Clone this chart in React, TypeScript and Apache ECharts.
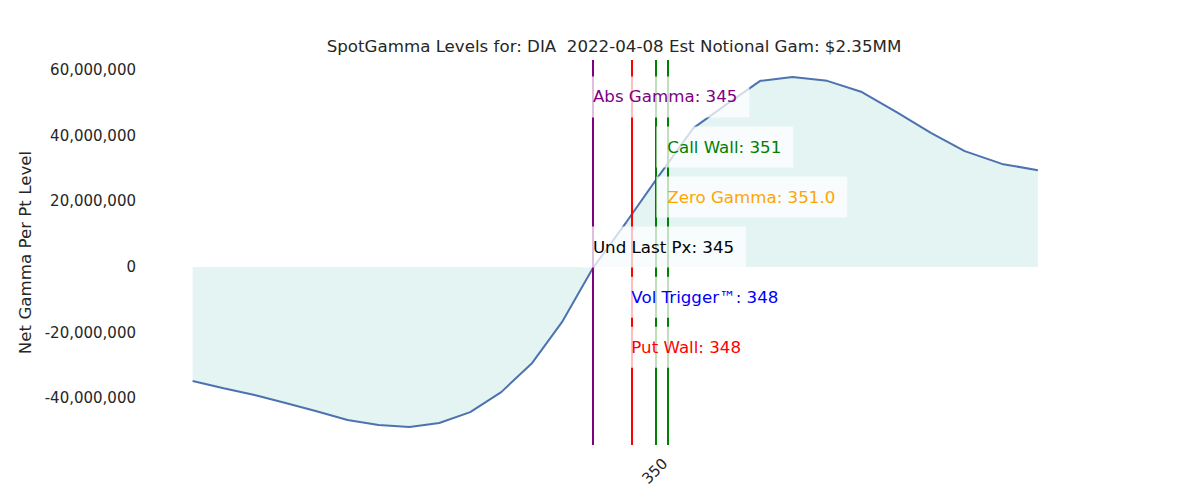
import { useEffect, useRef } from 'react'
import * as echarts from 'echarts'

// strikes and net gamma per point (in millions)
const strikes = [
  312.7, 315.2, 317.7, 320.2, 322.7, 325.2, 327.7, 330.2, 332.6, 335.1, 337.6, 340.1, 342.5, 345,
  347.7, 350.3, 353.1, 355.8, 358.5, 361.1, 363.9, 366.7, 369.5, 372.3, 375.0, 378.0, 380.9,
]
const gammaMM = [
  -34.7, -36.9, -39.0, -41.4, -43.9, -46.6, -48.1, -48.7, -47.5, -44.2, -38.1, -29.2, -16.8, -0.3,
  13.7, 27.7, 42.3, 49.6, 56.7, 57.9, 56.7, 53.3, 47.2, 40.8, 35.3, 31.4, 29.5,
]

// vertical level lines
const lineX = [345, 348.1, 350.1, 351]
const lineColors = ['#800080', '#ff0000', '#008000', '#008000']

// level labels
const levelNames = ['Abs Gamma', 'Call Wall', 'Zero Gamma', 'Und Last Px', 'Vol Trigger™', 'Put Wall']
const levelTexts = ['345', '351', '351.0', '345', '348', '348']
const levelX = [345, 351, 351, 345, 348.1, 348.1]
const levelColors = ['#800080', '#008000', '#ffa500', '#000000', '#0000ff', '#ff0000']

const yTicks = [-40e6, -20e6, 0, 20e6, 40e6, 60e6]
const xTicks = [350]

const titulo = 'SpotGamma Levels for: DIA  2022-04-08 Est Notional Gam: $2.35MM'

const Y_MIN = -54.2e6
const Y_MAX = 63.05e6
const FONT = 'DejaVu Sans'
const TXT = '#262626'

export default function App() {
  const ref = useRef<HTMLDivElement>(null)

  useEffect(() => {
    document.body.style.margin = '0'
    if (!ref.current) return
    const chart = echarts.init(ref.current, null, { renderer: 'svg' })

    // labels stacked down from the top of the axes, one row every 13% of the height
    const rowY = (i: number) => Y_MAX - (0.096 + 0.13 * i) * (Y_MAX - Y_MIN)

    chart.setOption({
      animation: false,
      backgroundColor: '#ffffff',
      textStyle: { fontFamily: FONT },
      title: {
        text: titulo,
        left: 614,
        top: 38,
        textAlign: 'center',
        padding: 0,
        textStyle: { fontSize: 16.67, fontWeight: 'normal', color: TXT, fontFamily: FONT },
      },
      grid: { left: 148, right: 120, top: 60, bottom: 55 },
      xAxis: {
        type: 'value',
        min: 309.1,
        max: 384.3,
        axisLine: { show: false },
        axisTick: { show: false },
        splitLine: { show: false },
        axisLabel: {
          customValues: xTicks,
          rotate: 45,
          align: 'center',
          verticalAlign: 'middle',
          margin: 26,
          fontSize: 15,
          color: TXT,
          fontFamily: FONT,
        },
      },
      yAxis: {
        type: 'value',
        min: Y_MIN,
        max: Y_MAX,
        name: 'Net Gamma Per Pt Level',
        nameLocation: 'middle',
        nameGap: 103,
        nameTextStyle: { fontSize: 16.67, color: TXT, fontFamily: FONT },
        axisLine: { show: false },
        axisTick: { show: false },
        splitLine: { show: false },
        axisLabel: {
          customValues: yTicks,
          margin: 12,
          fontSize: 15,
          color: TXT,
          fontFamily: FONT,
          formatter: (v: number) => Math.round(v).toLocaleString('en-US'),
        },
      },
      series: [
        {
          type: 'line',
          data: strikes.map((s, i) => [s, gammaMM[i] * 1e6]),
          symbol: 'none',
          z: 2,
          lineStyle: { color: '#4c72b0', width: 2 },
          areaStyle: { color: '#e4f4f2', opacity: 1 },
          markLine: {
            silent: true,
            symbol: 'none',
            label: { show: false },
            data: lineX.map((x, i) => ({
              xAxis: x,
              lineStyle: { color: lineColors[i], width: 2, type: 'solid', opacity: 1 },
            })),
          },
        },
        {
          type: 'scatter',
          z: 5,
          symbolSize: 0,
          silent: true,
          itemStyle: { opacity: 1 },
          data: levelNames.map((n, i) => ({
            value: [levelX[i], rowY(i)],
            label: { formatter: `${n}: ${levelTexts[i]}`, color: levelColors[i] },
          })),
          label: {
            show: true,
            position: 'right',
            distance: 0,
            offset: [-11, 0],
            opacity: 1,
            fontSize: 16.67,
            fontFamily: FONT,
            backgroundColor: 'rgba(255,255,255,0.75)',
            padding: [12, 12, 12, 11],
          },
        },
      ],
    })

    return () => chart.dispose()
  }, [])

  return <div ref={ref} style={{ width: 1200, height: 500 }} />
}
